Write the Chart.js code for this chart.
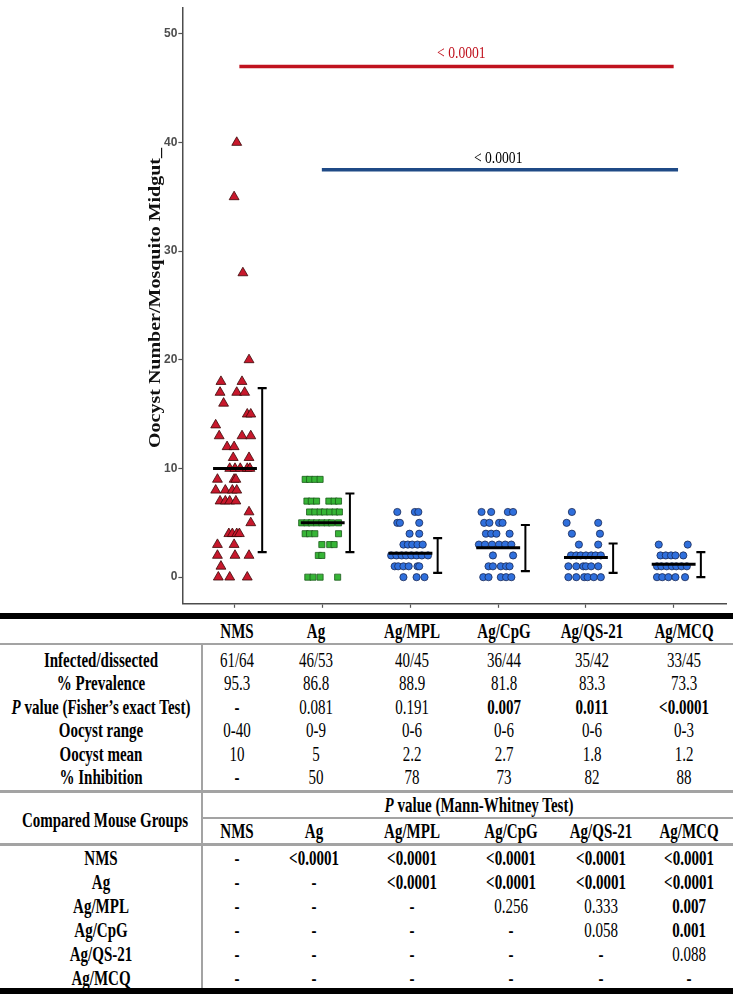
<!DOCTYPE html>
<html>
<head>
<meta charset="utf-8">
<script src="https://cdn.jsdelivr.net/npm/chart.js@4.4.1/dist/chart.umd.min.js"></script>
<style>
  html, body { margin: 0; padding: 0; background: #fff; }
  #wrap { position: relative; width: 733px; height: 994px; overflow: hidden; }
  #plot { position: absolute; left: 0; top: 0; width: 733px; height: 612px; }
  .t { position: absolute; white-space: nowrap; font-family: "Liberation Serif", "Times New Roman", serif;
       font-size: 20px; line-height: 1; color: #000; transform: translate(-50%, -50%) scaleX(0.75); }
  .b { font-weight: bold; }
  .rule { position: absolute; }
</style>
</head>
<body>
<div id="wrap">
  <div id="plot"><canvas id="oocystChart"></canvas></div>
  <div id="table"></div>
</div>
<script>
// groups
const groups = ["NMS", "Ag", "Ag/MPL", "Ag/CpG", "Ag/QS-21", "Ag/MCQ"];

// oocyst counts per midgut, with the horizontal jitter (category units)
const nmsCounts = [40, 35, 28, 20, 18, 18, 17, 17, 17, 16, 15, 15, 14, 13, 13, 13, 12, 12, 11, 11,
  10, 10, 10, 10, 10, 9, 9, 9, 8, 8, 8, 8, 7, 7, 7, 7, 6, 5, 4, 4, 4, 4, 3, 3, 2, 2, 2, 1, 0, 0, 0];
const nmsJitter = [0.02, -0.01, 0.09, 0.16, -0.16, 0.08, -0.17, 0.02, 0.11, -0.13, 0.14, 0.18, -0.22, -0.18, 0.08, 0.18, -0.09, -0.01, -0.02, 0.16,
  -0.06, 0, 0.06, 0.14, 0.17, -0.2, -0.01, 0.01, -0.22, -0.11, -0.03, 0.02, -0.17, -0.11, -0.06, 0.01, 0.16, 0.18, -0.07, -0.03, 0.02, 0.05, -0.2, -0.01, -0.2, 0, 0.16, -0.16, -0.19, -0.06, 0.14];

const agCounts = [9, 9, 9, 9, 7, 7, 7, 7, 7, 7, 6, 6, 6, 6, 6, 6, 6, 5, 5, 5, 5, 5, 5, 5, 5,
  4, 4, 4, 4, 3, 3, 3, 2, 2, 0, 0, 0, 0];
const agJitter = [-0.2, -0.15, -0.09, -0.03, -0.18, -0.13, -0.07, 0.07, 0.13, 0.18, -0.15, -0.09, -0.03, 0.02, 0.08, 0.14, 0.19,
  -0.24, -0.18, -0.13, -0.07, -0.01, 0.05, 0.1, 0.18, -0.2, -0.15, -0.09, 0.18, -0.01, 0.08, 0.13, -0.05, -0.01, -0.17, -0.11, -0.03, 0.17];

const mplCounts = [6, 6, 6, 5, 5, 5, 4, 4, 3, 3, 3, 3, 3, 2, 2, 2, 2, 2, 2, 2, 2, 1, 1, 1, 1, 1, 1, 0, 0, 0];
const mplJitter = [-0.15, 0.05, 0.09, -0.15, -0.12, 0.1, -0.01, 0.1, -0.08, -0.03, 0.02, 0.08, 0.14,
  -0.22, -0.16, -0.1, -0.05, 0.01, 0.07, 0.13, 0.2, -0.18, -0.14, -0.08, -0.02, 0.08, 0.1, -0.08, 0.07, 0.16];

const cpgCounts = [6, 6, 6, 6, 5, 5, 5, 5, 4, 4, 4, 4, 3, 3, 3, 3, 3, 3, 2, 2, 1, 1, 1, 1, 1, 0, 0, 0, 0, 0];
const cpgJitter = [-0.19, -0.08, 0.11, 0.17, -0.16, -0.1, 0.01, 0.05, -0.14, -0.08, -0.02, 0.13,
  -0.22, -0.15, -0.07, 0.01, 0.08, 0.15, -0.06, 0.17, -0.11, -0.06, 0.03, 0.09, 0.13, -0.17, -0.11, 0.03, 0.09, 0.15];

const qsCounts = [6, 5, 5, 4, 4, 3, 3, 2, 2, 2, 2, 2, 2, 2, 1, 1, 1, 1, 1, 1, 0, 0, 0, 0, 0, 0];
const qsJitter = [-0.16, -0.22, 0.14, -0.16, 0.16, -0.08, 0.14, -0.17, -0.11, -0.06, 0, 0.06, 0.11, 0.17,
  -0.2, -0.11, -0.03, 0, 0.06, 0.14, -0.2, -0.11, -0.02, 0.02, 0.09, 0.17];

const mcqCounts = [3, 3, 2, 2, 2, 2, 2, 1, 1, 1, 1, 1, 1, 1, 0, 0, 0, 0, 0];
const mcqJitter = [-0.17, 0.16, -0.15, -0.09, -0.03, 0.02, 0.11, -0.19, -0.14, -0.08, -0.02, 0.03, 0.09, 0.15,
  -0.19, -0.13, -0.06, 0.02, 0.13];

// summary bars
const groupMeans = [10, 5, 2.2, 2.7, 1.8, 1.2];
const barLow = [2.3, 2.3, 0.4, 0.55, 0.4, 0];
const barHigh = [17.4, 7.7, 3.6, 4.8, 3.1, 2.3];

// significance brackets
const bracketFrom = [1.05, 1.99];
const bracketTo = [6.0, 6.05];
const bracketAt = [47, 37.5];
const bracketText = ["< 0.0001", "< 0.0001"];
const bracketLabelX = [3.58, 4.0];
const bracketLabelY = [48.2, 38.5];

const yTicks = [0, 10, 20, 30, 40, 50];

// table values
const infectedDissected = ["61/64", "46/53", "40/45", "36/44", "35/42", "33/45"];
const prevalence = ["95.3", "86.8", "88.9", "81.8", "83.3", "73.3"];
const fisherP = ["-", "0.081", "0.191", "0.007", "0.011", "<0.0001"];
const oocystRange = ["0-40", "0-9", "0-6", "0-6", "0-6", "0-3"];
const oocystMean = ["10", "5", "2.2", "2.7", "1.8", "1.2"];
const inhibition = ["-", "50", "78", "73", "82", "88"];
const mannWhitney = [
  ["-", "<0.0001", "<0.0001", "<0.0001", "<0.0001", "<0.0001"],
  ["-", "-", "<0.0001", "<0.0001", "<0.0001", "<0.0001"],
  ["-", "-", "-", "0.256", "0.333", "0.007"],
  ["-", "-", "-", "-", "0.058", "0.001"],
  ["-", "-", "-", "-", "-", "0.088"],
  ["-", "-", "-", "-", "-", "-"]
];

const styles = [
  { shape: "triangle", fill: "#c8182c", edge: "#3a0808", r: 5.7 },
  { shape: "rect", fill: "#36b536", edge: "#1c5a1c", r: 4.3 },
  { shape: "circle", fill: "#2f6fdc", edge: "#1b2a55", r: 3.6 },
  { shape: "circle", fill: "#2f6fdc", edge: "#1b2a55", r: 3.6 },
  { shape: "circle", fill: "#2f6fdc", edge: "#1b2a55", r: 3.6 },
  { shape: "circle", fill: "#2f6fdc", edge: "#1b2a55", r: 3.6 }
];
const allCounts = [nmsCounts, agCounts, mplCounts, cpgCounts, qsCounts, mcqCounts];
const allJitter = [nmsJitter, agJitter, mplJitter, cpgJitter, qsJitter, mcqJitter];

const datasets = [];
allCounts.forEach((counts, g) => {
  const s = styles[g];
  datasets.push({
    type: "scatter",
    label: groups[g],
    data: counts.map((v, i) => ({ x: g + 1 + allJitter[g][i], y: v })),
    pointStyle: s.shape,
    pointRadius: s.r,
    backgroundColor: s.fill,
    borderColor: s.edge,
    borderWidth: 0.8,
    order: 5
  });
});
groupMeans.forEach((m, g) => {
  datasets.push({
    type: "line",
    data: [{ x: g + 1 - 0.25, y: m }, { x: g + 1 + 0.25, y: m }],
    borderColor: "#000",
    borderWidth: 3,
    pointRadius: 0,
    showLine: true,
    order: 1
  });
  datasets.push({
    type: "line",
    data: [{ x: g + 1.31, y: barLow[g] }, { x: g + 1.31, y: barHigh[g] }],
    borderColor: "#000",
    borderWidth: 2,
    showLine: true,
    pointStyle: "line",
    pointRadius: 4.5,
    pointBorderWidth: 2.2,
    pointBorderColor: "#000",
    order: 1
  });
});
const bracketColors = ["#c0121e", "#1f4a86"];
bracketFrom.forEach((x0, k) => {
  datasets.push({
    type: "line",
    data: [{ x: x0, y: bracketAt[k] }, { x: bracketTo[k], y: bracketAt[k] }],
    borderColor: bracketColors[k],
    borderWidth: 3.5,
    pointRadius: 0,
    showLine: true,
    order: 1
  });
});

const labelColors = ["#c0121e", "#000"];
const extraText = {
  id: "extraText",
  afterDraw(chart) {
    const { ctx, scales: { x, y } } = chart;
    bracketText.forEach((txt, k) => {
      ctx.save();
      ctx.translate(x.getPixelForValue(bracketLabelX[k]), y.getPixelForValue(bracketLabelY[k]));
      ctx.scale(0.8, 1);
      ctx.font = '17px "Liberation Serif"';
      ctx.fillStyle = labelColors[k];
      ctx.textAlign = "center";
      ctx.textBaseline = "middle";
      ctx.fillText(txt, 0, 0);
      ctx.restore();
    });
    // y axis title
    ctx.save();
    ctx.translate(156, (chart.chartArea.top + chart.chartArea.bottom) / 2 - 8);
    ctx.rotate(-Math.PI / 2);
    ctx.scale(1, 0.85);
    ctx.font = 'bold 20px "Liberation Serif"';
    ctx.fillStyle = "#111";
    ctx.textAlign = "center";
    ctx.textBaseline = "middle";
    ctx.fillText("Oocyst Number/Mosquito Midgut_", 0, 0);
    ctx.restore();
  }
};

new Chart(document.getElementById("oocystChart"), {
  data: { datasets },
  options: {
    responsive: true,
    maintainAspectRatio: false,
    animation: false,
    layout: { padding: { left: 163, right: 2, top: 5, bottom: 0 } },
    plugins: { legend: { display: false }, tooltip: { enabled: false } },
    scales: {
      x: {
        type: "linear",
        min: 0.4,
        max: 6.6,
        afterBuildTicks: axis => { axis.ticks = groups.map((g, i) => ({ value: i + 1 })); },
        ticks: { display: false },
        grid: { drawOnChartArea: false, tickLength: 4, color: "#555", tickWidth: 1.2 },
        border: { display: true, color: "#4d4d4d", width: 1.5 }
      },
      y: {
        type: "linear",
        min: -2.45,
        max: 52.36,
        afterBuildTicks: axis => { axis.ticks = yTicks.map(v => ({ value: v })); },
        ticks: { color: "#4d4d4d", padding: 1, font: { family: "Liberation Sans", size: 12, weight: "bold" } },
        grid: { drawOnChartArea: false, tickLength: 4, color: "#555", tickWidth: 1.2 },
        border: { display: true, color: "#4d4d4d", width: 1.5 }
      }
    }
  },
  plugins: [extraText]
});

// table below the plot
const table = document.getElementById("table");
function put(text, x, y, bold, italicP) {
  const d = document.createElement("div");
  d.className = "t" + (bold ? " b" : "");
  if (italicP) {
    d.innerHTML = "<i>P</i>" + text;
  } else {
    d.textContent = text;
  }
  d.style.left = x + "px";
  d.style.top = y + "px";
  table.appendChild(d);
}
function rule(x, y, w, h, color) {
  const d = document.createElement("div");
  d.className = "rule";
  d.style.left = x + "px";
  d.style.top = y + "px";
  d.style.width = w + "px";
  d.style.height = h + "px";
  d.style.background = color;
  table.appendChild(d);
}
const isBold = v => v === "-" || v.startsWith("<") || parseFloat(v) < 0.05;

const labelX = 101;
const colX1 = [237, 316, 412, 504, 592, 684];
const colX2 = [237, 314, 412, 511, 601, 689];
const rowY1 = [660, 683, 707, 730, 754, 777];
const rowY2 = [858, 882, 906, 930, 954, 978];

rule(0, 613, 733, 6, "#000");
rule(0, 643, 733, 2, "#a3a3a3");
rule(201, 643, 2, 346, "#a3a3a3");
rule(0, 790, 733, 3, "#a3a3a3");
rule(203, 817, 530, 2, "#a3a3a3");
rule(0, 843, 733, 3, "#a3a3a3");
rule(0, 988, 733, 6, "#000");

groups.forEach((g, i) => put(g, colX1[i], 631, true));
const firstRows = [
  ["Infected/dissected", infectedDissected, false],
  ["% Prevalence", prevalence, false],
  [" value (Fisher\u2019s exact Test)", fisherP, true],
  ["Oocyst range", oocystRange, false],
  ["Oocyst mean", oocystMean, false],
  ["% Inhibition", inhibition, false]
];
firstRows.forEach(([label, vals, pRow], r) => {
  put(label, labelX, rowY1[r], true, pRow);
  vals.forEach((v, i) => put(v, colX1[i], rowY1[r], pRow ? isBold(v) : v === "-"));
});

put(" value (Mann-Whitney Test)", 479, 805, true, true);
put("Compared Mouse Groups", 105, 820, true);
groups.forEach((g, i) => put(g, colX2[i], 831, true));
groups.forEach((g, r) => {
  put(g, labelX, rowY2[r], true);
  mannWhitney[r].forEach((v, i) => put(v, colX2[i], rowY2[r], isBold(v)));
});
</script>
</body>
</html>
